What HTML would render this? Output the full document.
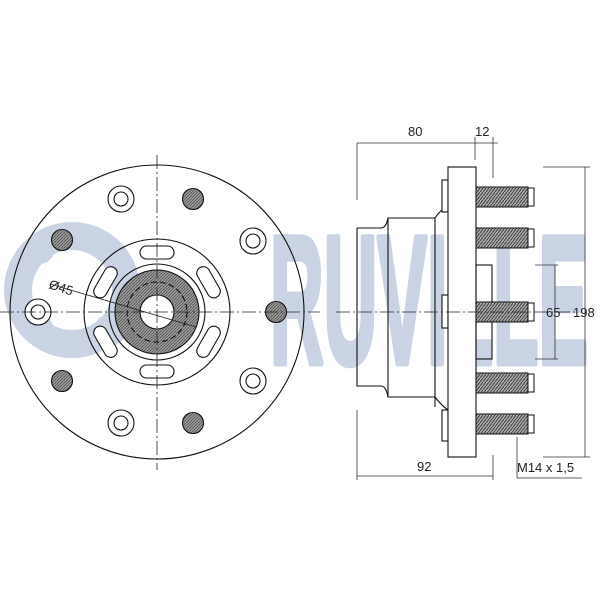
<!DOCTYPE html>
<html><head><meta charset="utf-8"><style>html,body{margin:0;padding:0;background:#fff}svg{display:block}</style></head><body>
<svg width="600" height="600" viewBox="0 0 600 600" xmlns="http://www.w3.org/2000/svg" font-family="Liberation Sans, sans-serif">
<defs>
<pattern id="h" width="3" height="3" patternUnits="userSpaceOnUse"><rect width="3" height="3" fill="#9a9a9a"/><path d="M0 3L3 0" stroke="#555" stroke-width="0.8"/></pattern>
<pattern id="t" width="3" height="4" patternUnits="userSpaceOnUse"><rect width="3" height="4" fill="#aaa"/><path d="M0 4L3 0" stroke="#333" stroke-width="0.9"/></pattern>
</defs>
<!-- logo -->
<g fill="#c9d3e3">
<circle cx="72" cy="290" r="54" fill="none" stroke="#c9d3e3" stroke-width="28"/>
<circle cx="40" cy="250" r="14"/><circle cx="40" cy="330" r="14"/><circle cx="110" cy="330" r="16"/>
<text x="270" y="363" font-size="182" font-weight="bold" textLength="318" lengthAdjust="spacingAndGlyphs" stroke="#c9d3e3" stroke-width="7" stroke-linejoin="round">RUVILLE</text>
</g>
<g fill="none" stroke="#111" stroke-width="1.1">
<!-- front view -->
<circle cx="157" cy="312" r="147"/>
<circle cx="157" cy="312" r="73"/>
<circle cx="157" cy="312" r="48"/>
<circle cx="157" cy="312" r="42" fill="url(#h)"/>
<circle cx="157" cy="312" r="30" stroke-dasharray="6 3"/>
<circle cx="157" cy="312" r="17" fill="#fff"/>
<g>
<rect x="140" y="246" width="34" height="13" rx="6.5" fill="#fff"/>
<rect x="140" y="365" width="34" height="13" rx="6.5" fill="#fff"/>
<rect x="140" y="246" width="34" height="13" rx="6.5" fill="#fff" transform="rotate(60 157 312)"/>
<rect x="140" y="246" width="34" height="13" rx="6.5" fill="#fff" transform="rotate(-60 157 312)"/>
<rect x="140" y="246" width="34" height="13" rx="6.5" fill="#fff" transform="rotate(120 157 312)"/>
<rect x="140" y="246" width="34" height="13" rx="6.5" fill="#fff" transform="rotate(-120 157 312)"/>
</g>
<g fill="#fff">
<circle cx="121" cy="199" r="13"/><circle cx="121" cy="199" r="7"/>
<circle cx="253" cy="241" r="13"/><circle cx="253" cy="241" r="7"/>
<circle cx="38" cy="312" r="13"/><circle cx="38" cy="312" r="7"/>
<circle cx="253" cy="381" r="13"/><circle cx="253" cy="381" r="7"/>
<circle cx="121" cy="423" r="13"/><circle cx="121" cy="423" r="7"/>
</g>
<g fill="url(#h)">
<circle cx="193" cy="199" r="10.5"/><circle cx="62" cy="240" r="10.5"/>
<circle cx="276" cy="312" r="10.5"/><circle cx="62" cy="381" r="10.5"/><circle cx="193" cy="423" r="10.5"/>
</g>
</g>
<g stroke="#222" stroke-width="0.8" fill="none">
<line x1="157" y1="155" x2="157" y2="470" stroke-dasharray="14 3 2 3"/>
<line x1="0" y1="312" x2="320" y2="312" stroke-dasharray="14 3 2 3"/>
<line x1="50" y1="284" x2="196" y2="327"/>
</g>
<text x="48" y="288" font-size="13" fill="#222" transform="rotate(18 48 288)">Ø45</text>

<!-- side view -->
<g fill="none" stroke="#111" stroke-width="1.1">
<path d="M357 228 H381 Q386 228 388 218 H435 Q440 210 448 206" />
<path d="M357 228 V386 H381 Q386 386 388 397 H435 Q440 404 448 410"/>
<line x1="388" y1="218" x2="388" y2="397"/>
<line x1="435" y1="217" x2="435" y2="407"/>
<rect x="442" y="180" width="6" height="32" fill="#fff"/>
<rect x="442" y="295" width="6" height="33" fill="#fff"/>
<rect x="442" y="410" width="6" height="31" fill="#fff"/>
<rect x="448" y="167" width="28" height="290" fill="#fff"/>
<rect x="476" y="265" width="16" height="94"/>
</g>
<g stroke="#111" stroke-width="1">
<g id="st">
<rect x="476" y="187" width="52" height="20" fill="url(#t)"/>
<rect x="528" y="188" width="6" height="18" fill="#fff"/>
</g>
<use href="#st" y="41"/><use href="#st" y="115"/><use href="#st" y="186"/><use href="#st" y="227"/>
</g>
<line x1="336" y1="312" x2="575" y2="312" stroke="#222" stroke-width="0.8" stroke-dasharray="14 3 2 3"/>
<!-- dims -->
<g stroke="#333" stroke-width="0.8" fill="none">
<line x1="357" y1="143" x2="357" y2="200"/><line x1="357" y1="410" x2="357" y2="480"/>
<line x1="357" y1="143" x2="498" y2="143"/>
<line x1="475" y1="137" x2="475" y2="160"/><line x1="493" y1="137" x2="493" y2="178"/>
<line x1="357" y1="476" x2="493" y2="476"/><line x1="493" y1="455" x2="493" y2="480"/>
<line x1="543" y1="167" x2="590" y2="167"/><line x1="543" y1="457" x2="590" y2="457"/>
<line x1="585" y1="167" x2="585" y2="457"/>
<line x1="535" y1="265" x2="558" y2="265"/><line x1="535" y1="359" x2="558" y2="359"/>
<line x1="555" y1="265" x2="555" y2="359"/>
<line x1="517" y1="437" x2="517" y2="478"/><line x1="517" y1="478" x2="582" y2="478"/>
</g>
<text x="408" y="136" font-size="13" fill="#222">80</text>
<text x="475" y="136" font-size="13" fill="#222">12</text>
<text x="417" y="471" font-size="13" fill="#222">92</text>
<text x="546" y="317" font-size="13" fill="#222">65</text>
<text x="573" y="317" font-size="13" fill="#222">198</text>
<text x="517" y="472" font-size="13" fill="#222">M14 x 1,5</text>
</svg>
</body></html>
